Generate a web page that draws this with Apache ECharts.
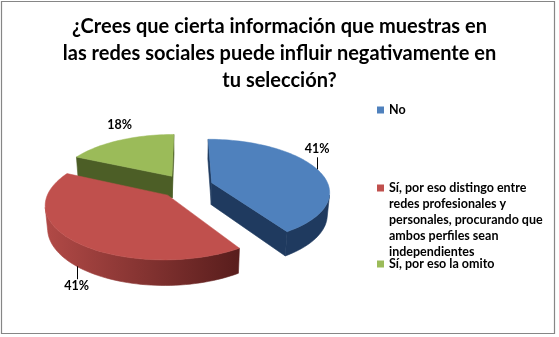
<!DOCTYPE html>
<html>
<head>
<meta charset="utf-8">
<script src="https://cdn.jsdelivr.net/npm/echarts@6/dist/echarts.min.js"></script>
<style>
  html, body { margin: 0; padding: 0; background: #ffffff; }
  #chart { width: 559px; height: 337px; }
</style>
</head>
<body>
<div id="chart"></div>
<script>
// ---- data ----
const titleLines = [
  '¿Crees que cierta información que muestras en',
  'las redes sociales puede influir negativamente en',
  'tu selección?'
];
const categories = [
  'No',
  'Sí, por eso distingo entre redes profesionales y personales, procurando que ambos perfiles sean independientes',
  'Sí, por eso la omito'
];
const values = [41, 41, 18];

// ---- styling ----
const topColors = ['#4f81bd', '#c0504d', '#9bbb59'];
const rimLight  = ['#3c6496', '#b04946', '#7a9444'];
const rimDark   = ['#1f3a5f', '#5a1e1d', '#4c5e26'];
const cutColors = ['#1f3a5f', '#5a1e1d', '#4c5e26'];
const labelLineLen = [12, 13, 0];
const labelDist    = [20, 20, 15];
const FONT = 'Lato, "Open Sans", sans-serif';

// 3D pie projection parameters
const PIE = { cx: 186, cy: 186, r: 117, depth: 25, tilt: 26 * Math.PI / 180, dist: 664, explode: 27 };

const total = values.reduce((a, b) => a + b, 0);
const starts = [];
values.reduce((acc, v) => { starts.push(acc); return acc + v; }, 0);

function project(X, Y, Z) {
  const c = Math.cos(PIE.tilt), s = Math.sin(PIE.tilt);
  const yv = Y * c - Z * s;
  const zv = Y * s + Z * c;
  const k = PIE.dist / (PIE.dist - zv);
  return [PIE.cx + X * k, PIE.cy - yv * k];
}

function signedArea(pts) {
  let a = 0;
  for (let i = 0; i < pts.length; i++) {
    const p = pts[i], q = pts[(i + 1) % pts.length];
    a += p[0] * q[1] - q[0] * p[1];
  }
  return a;
}

function buildSlice(i, value) {
  const a0 = starts[i] / total * Math.PI * 2;
  const a1 = a0 + value / total * Math.PI * 2;
  const mid = (a0 + a1) / 2;
  const ex = PIE.explode * Math.sin(mid), ez = -PIE.explode * Math.cos(mid);
  const R = PIE.r, H = PIE.depth;
  const P = (t, Y) => project(ex + R * Math.sin(t), Y, ez - R * Math.cos(t));
  const C = (Y) => project(ex, Y, ez);

  const n = Math.max(8, Math.ceil((a1 - a0) / (Math.PI / 90)));
  const angles = [];
  for (let k = 0; k <= n; k++) angles.push(a0 + (a1 - a0) * k / n);

  const children = [];
  const rimFill = new echarts.graphic.LinearGradient(48, 0, 236, 0, [
    { offset: 0, color: rimLight[i] },
    { offset: 1, color: rimDark[i] }
  ], true);

  // flat cut faces
  const startFace = [C(0), P(a0, 0), P(a0, -H), C(-H)];
  const endFace = [C(0), C(-H), P(a1, -H), P(a1, 0)];
  [startFace, endFace].forEach(face => {
    if (signedArea(face) < 0) {
      children.push({ type: 'polygon', shape: { points: face },
        style: { fill: cutColors[i], stroke: cutColors[i], lineWidth: 0.6 } });
    }
  });

  // curved outer wall, front-facing runs only
  let run = null;
  const flush = () => {
    if (run && run.length > 1) {
      const topPts = run.map(t => P(t, 0));
      const botPts = run.map(t => P(t, -H)).reverse();
      children.push({ type: 'polygon', shape: { points: topPts.concat(botPts) },
        style: { fill: rimFill, stroke: rimFill, lineWidth: 0.6 } });
    }
    run = null;
  };
  for (let k = 0; k < n; k++) {
    const t1 = angles[k], t2 = angles[k + 1];
    const quad = [P(t1, 0), P(t2, 0), P(t2, -H), P(t1, -H)];
    if (signedArea(quad) < 0) {
      if (!run) run = [t1];
      run.push(t2);
    } else {
      flush();
    }
  }
  flush();

  // top face
  const topPts = [C(0)].concat(angles.map(t => P(t, 0)));
  children.push({ type: 'polygon', shape: { points: topPts },
    style: { fill: topColors[i], stroke: topColors[i], lineWidth: 0.5 } });

  // percentage label
  const front = -Math.cos(mid) > 0;
  const anchor = front ? P(mid, -H) : P(mid, 0);
  const dir = front ? 1 : -1;
  const lx = Math.round(anchor[0]) + 0.5;
  if (labelLineLen[i] > 0) {
    children.push({ type: 'line',
      shape: { x1: lx, y1: anchor[1], x2: lx, y2: anchor[1] + dir * labelLineLen[i] },
      style: { stroke: '#000000', lineWidth: 1 } });
  }
  children.push({ type: 'text', x: anchor[0], y: anchor[1] + dir * labelDist[i],
    style: { text: Math.round(value / total * 100) + '%', fill: '#000000',
      fontFamily: FONT, fontWeight: 'bold', fontSize: 12.5,
      align: 'center', verticalAlign: 'middle' } });

  return { type: 'group', children };
}

// draw back slices first
const depthKey = values.map((v, i) => {
  const mid = (starts[i] + v / 2) / total * Math.PI * 2;
  return -Math.cos(mid);
});
const order = depthKey.map((d, i) => i).sort((a, b) => depthKey[a] - depthKey[b]);

const series = categories.map((name, i) => ({
  type: 'custom',
  name: name,
  coordinateSystem: 'none',
  z: 2 + order.indexOf(i),
  silent: true,
  itemStyle: { color: topColors[i] },
  data: [[values[i]]],
  renderItem: (params, api) => buildSlice(i, api.value(0))
}));

const legendText = {
  fontFamily: FONT, fontWeight: 'bold', fontSize: 12.5, lineHeight: 16, color: '#000000'
};

const chart = echarts.init(document.getElementById('chart'), null, { renderer: 'canvas' });
chart.setOption({
  animation: false,
  backgroundColor: '#ffffff',
  title: {
    text: titleLines.join('\n'),
    left: 'center',
    top: 13,
    padding: 0,
    textStyle: { fontFamily: FONT, fontWeight: 'bold', fontSize: 20, lineHeight: 27, color: '#000000' }
  },
  legend: [
    { data: [categories[0]], orient: 'vertical', left: 377, top: 102, padding: 0,
      icon: 'rect', itemWidth: 7, itemHeight: 7, selectedMode: false, textStyle: legendText },
    { data: [categories[1]], orient: 'vertical', left: 377, top: 116, padding: 0,
      icon: 'rect', itemWidth: 7, itemHeight: 7, selectedMode: false,
      // four empty lines above keep the swatch level with the first text line
      formatter: name => '\n\n\n\n' + name,
      textStyle: Object.assign({}, legendText, { width: 170, overflow: 'break' }) },
    { data: [categories[2]], orient: 'vertical', left: 377, top: 256, padding: 0,
      icon: 'rect', itemWidth: 7, itemHeight: 7, selectedMode: false, textStyle: legendText }
  ],
  graphic: [{
    type: 'rect', silent: true, z: 0,
    shape: { x: 1.5, y: 1.5, width: 553, height: 332 },
    style: { fill: 'none', stroke: '#868686', lineWidth: 1.2 }
  }],
  series: series
});
</script>
</body>
</html>
